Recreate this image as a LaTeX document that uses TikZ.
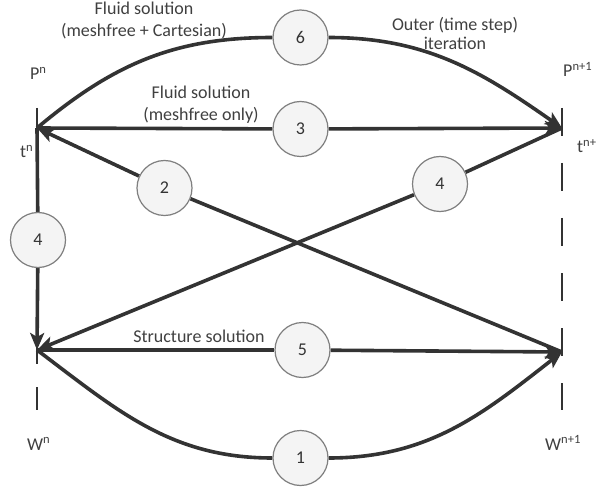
\documentclass[tikz,border=0pt]{standalone}
\usepackage{fontspec}
\setmainfont{Carlito}
\usetikzlibrary{arrows.meta,backgrounds}
\definecolor{ln}{HTML}{333333}
\definecolor{tx}{HTML}{404040}
\definecolor{cb}{HTML}{7F7F7F}
\definecolor{cf}{HTML}{F4F4F4}
\begin{document}
\begin{tikzpicture}[x=1pt,y=-1pt,
  conn/.style={draw=ln, line width=3.6pt},
  arr/.style={conn, -{Stealth[length=17pt,width=14pt,inset=4pt]}},
  numc/.style={circle, draw=cb, line width=1.2pt, fill=cf, minimum size=55pt, inner sep=0pt, font=\fontsize{18}{20}\selectfont, text=ln},
  lbl/.style={font=\fontsize{18}{22}\selectfont, text=tx, inner sep=0pt},
  axisln/.style={draw=ln, line width=2pt}]
\path[use as bounding box] (0,0) rectangle (597,489);
\coordinate (A) at (37,128);
\coordinate (B) at (562,128);
\coordinate (C) at (37,350);
\coordinate (D) at (562,352);
\coordinate (Ltop) at (37,108);
\coordinate (Lbot) at (37,364);
\coordinate (Ld1) at (37,387);
\coordinate (Ld2) at (37,410);
\coordinate (Rtop) at (562,108);
\coordinate (Rbot) at (562,410);
\node[numc] (c6) at (300.5,37.5) {6};
\node[numc] (c3) at (300.5,129) {3};
\node[numc] (c2) at (164.5,188) {2};
\node[numc] (c4r) at (440,184) {4};
\node[numc] (c4l) at (38,240) {4};
\node[numc] (c5) at (302.5,350) {5};
\node[numc] (c1) at (300.5,458) {1};
\begin{scope}[on background layer]
\fill[white] (0,0) rectangle (597,489);
\draw[axisln] (Ltop) -- (Lbot);
\draw[axisln] (Ld1) -- (Ld2);
\draw[axisln, dash pattern=on 28pt off 27pt] (Rtop) -- (Rbot);
\draw[conn] (A) to[out=40,in=180] (c6.west);
\draw[arr] (c6.east) to[out=0,in=145] (B);
\draw[conn] (A) -- (c3);
\draw[arr] (c3) -- (B);
\draw[arr] (c2) -- (A);
\draw[conn] (c2) -- (D);
\draw[conn] (B) -- (c4r);
\draw[arr] (c4r) -- (C);
\draw[conn] (A) -- (c4l);
\draw[arr] (c4l) -- (C);
\draw[conn] (C) -- (c5);
\draw[arr] (c5) -- (D);
\draw[conn] (C) to[out=-37,in=180] (c1.west);
\draw[arr] (c1.east) to[out=0,in=-142] (D);
\end{scope}
\node[lbl, anchor=base] (t1) at (144,15) {Fluid solution};
\node[lbl, anchor=base] (t2) at (144,37) {(meshfree + Cartesian)};
\node[lbl, anchor=base] (t3) at (455,31) {Outer (time step)};
\node[lbl, anchor=base] (t4) at (455,50) {iteration};
\node[lbl, anchor=base] (t5) at (201,99) {Fluid solution};
\node[lbl, anchor=base] (t6) at (201,121) {(meshfree only)};
\node[lbl, anchor=base] (t7) at (199,342) {Structure solution};
\node[lbl, anchor=base west] (pn) at (30,80) {P\textsuperscript{n}};
\node[lbl, anchor=base west] (tn) at (20,158) {t\textsuperscript{n}};
\node[lbl, anchor=base west] (pn1) at (563,77) {P\textsuperscript{n+1}};
\node[lbl, anchor=base west] (tn1) at (577,153) {t\textsuperscript{n+1}};
\node[lbl, anchor=base west] (wn) at (27,450) {W\textsuperscript{n}};
\node[lbl, anchor=base west] (wn1) at (545,450) {W\textsuperscript{n+1}};
\end{tikzpicture}
\end{document}
